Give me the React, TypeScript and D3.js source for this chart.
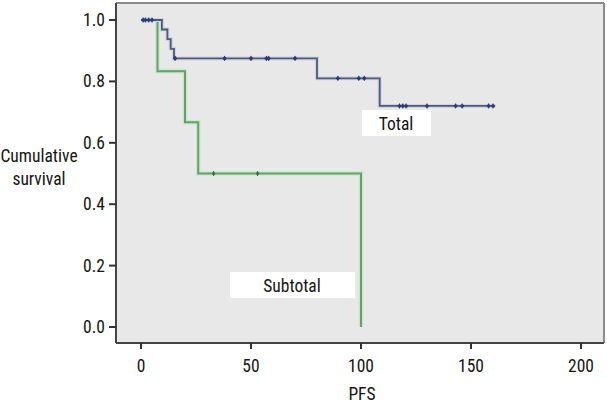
import React from "react";
import * as d3 from "d3";

const xTicks = [0, 50, 100, 150, 200];
const yTicks = [0, 0.2, 0.4, 0.6, 0.8, 1.0];

const totalTimes = [0, 9.5, 12, 13.5, 15, 80, 108.5, 161];
const totalSurv = [1, 0.969, 0.938, 0.906, 0.875, 0.81, 0.72, 0.72];
const totalCensor = [1, 2, 3.5, 5, 15.5, 38, 50, 57, 58, 70, 89.5, 99, 101.5, 117.5, 119, 120.5, 130, 143, 146, 158, 160];

const subTimes = [0, 7.5, 20, 26, 100, 100];
const subSurv = [1, 0.833, 0.667, 0.5, 0, 0];
const subCensor = [33, 53];

const FONT = "'Liberation Sans Narrow', 'Arial Narrow', 'Roboto Condensed', sans-serif";

function survAt(times: number[], surv: number[], t: number) {
  let s = surv[0];
  for (let i = 0; i < times.length; i++) if (times[i] <= t) s = surv[i];
  return s;
}

export default function App() {
  const x = d3.scaleLinear().domain([0, 200]).range([141, 581]);
  const y = d3.scaleLinear().domain([0, 1]).range([327, 20]);
  const line = d3
    .line<[number, number]>()
    .x((d) => x(d[0]))
    .y((d) => y(d[1]))
    .curve(d3.curveStepAfter);
  const totalPath = line(totalTimes.map((t, i) => [t, totalSurv[i]]))!;
  const subPath = line(subTimes.map((t, i) => [t, subSurv[i]]))!;
  const left = 116, right = 604, top = 3, bottom = 343;
  const txt = "#151515";
  return (
    <svg width={607} height={404} style={{ position: "absolute", left: 0, top: 0, background: "#fff" }}>
      <rect x={left} y={top} width={right - left} height={bottom - top} fill="#e8e8e8" />
      {/* subtotal */}
      <path d={subPath} fill="none" stroke="#c6e8c8" strokeWidth={4.5} />
      <path d={subPath} fill="none" stroke="#66a06f" strokeWidth={2} />
      {subCensor.map((t, i) => (
        <g key={"s" + i}>
          <line x1={x(t)} x2={x(t)} y1={y(survAt(subTimes, subSurv, t)) - 2.5} y2={y(survAt(subTimes, subSurv, t)) + 2.5} stroke="#3f6a45" strokeWidth={1} />
          <circle cx={x(t)} cy={y(survAt(subTimes, subSurv, t))} r={1.6} fill="#3f6a45" />
        </g>
      ))}
      {/* total */}
      <path d={totalPath} fill="none" stroke="#cdd3e3" strokeWidth={4} />
      <path d={totalPath} fill="none" stroke="#525b74" strokeWidth={1.8} />
      {totalCensor.map((t, i) => (
        <g key={"t" + i}>
          <line x1={x(t)} x2={x(t)} y1={y(survAt(totalTimes, totalSurv, t)) - 2.5} y2={y(survAt(totalTimes, totalSurv, t)) + 2.5} stroke="#2a3566" strokeWidth={1} />
          <circle cx={x(t)} cy={y(survAt(totalTimes, totalSurv, t))} r={1.8} fill="#2a3a7a" />
        </g>
      ))}
      {/* labels */}
      <rect x={362} y={110} width={69} height={26} fill="#fff" />
      <text x={396} y={130} textAnchor="middle" fontFamily={FONT} fontSize={17.5} fill={txt}>Total</text>
      <rect x={230} y={272} width={125} height={26} fill="#fff" />
      <text x={292} y={292} textAnchor="middle" fontFamily={FONT} fontSize={17.5} fill={txt}>Subtotal</text>
      {/* frame */}
      <line x1={left} x2={right} y1={top} y2={top} stroke="#8a8a8a" strokeWidth={2} />
      <line x1={right} x2={right} y1={top} y2={bottom} stroke="#8a8a8a" strokeWidth={2} />
      <line x1={left} x2={left} y1={top} y2={bottom} stroke="#444" strokeWidth={2} />
      <line x1={left} x2={right} y1={bottom} y2={bottom} stroke="#444" strokeWidth={2} />
      {/* y ticks */}
      {yTicks.map((v) => (
        <g key={"y" + v}>
          <line x1={109} x2={left} y1={y(v)} y2={y(v)} stroke="#333" strokeWidth={2} />
          <text x={105} y={y(v) + 6} textAnchor="end" fontFamily={FONT} fontSize={17.5} fill={txt}>{v.toFixed(1)}</text>
        </g>
      ))}
      {/* x ticks */}
      {xTicks.map((v) => (
        <g key={"x" + v}>
          <line x1={x(v)} x2={x(v)} y1={bottom} y2={bottom + 6} stroke="#333" strokeWidth={2} />
          <text x={x(v)} y={372} textAnchor="middle" fontFamily={FONT} fontSize={17.5} fill={txt}>{v}</text>
        </g>
      ))}
      <text x={362} y={400} textAnchor="middle" fontFamily={FONT} fontSize={17.5} fill={txt}>PFS</text>
      <text x={39} y={162} textAnchor="middle" fontFamily={FONT} fontSize={17.5} fill={txt}>Cumulative</text>
      <text x={39} y={185} textAnchor="middle" fontFamily={FONT} fontSize={17.5} fill={txt}>survival</text>
    </svg>
  );
}
